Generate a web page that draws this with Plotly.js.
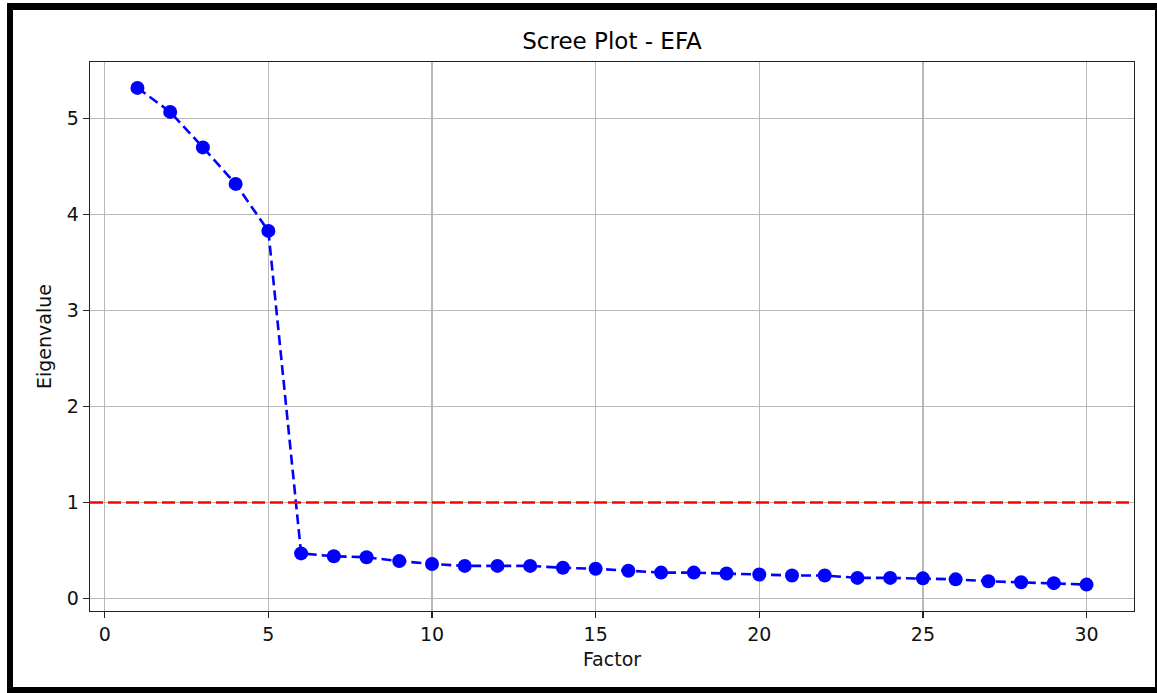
<!DOCTYPE html>
<html>
<head>
<meta charset="utf-8">
<script src="https://cdn.plot.ly/plotly-3.0.1.min.js"></script>
<style>
  html, body { margin: 0; padding: 0; background: #fff; }
  #wrap { position: relative; width: 1157px; height: 693px; overflow: hidden; }
  #chart { position: absolute; left: 0; top: 0; width: 1157px; height: 693px; }
  #frame { position: absolute; left: 7px; top: 3px; width: 1150px; height: 690px;
           box-sizing: border-box; border-style: solid; border-color: #000;
           border-width: 7px 2px 6px 6px; pointer-events: none; }
</style>
</head>
<body>
<div id="wrap">
  <div id="chart"></div>
  <div id="frame"></div>
</div>
<script>
const factors = Array.from({length: 30}, (_, i) => i + 1);
const eigenvalues = [5.32, 5.07, 4.70, 4.32, 3.83, 0.47, 0.44, 0.43, 0.39, 0.36,
                     0.34, 0.34, 0.34, 0.32, 0.31, 0.29, 0.27, 0.27, 0.26, 0.25,
                     0.24, 0.24, 0.215, 0.215, 0.21, 0.20, 0.18, 0.17, 0.16, 0.145];
const kaiserThreshold = 1;
const xTicks = [0, 5, 10, 15, 20, 25, 30];
const yTicks = [0, 1, 2, 3, 4, 5];
const titleText = 'Scree Plot - EFA';
const xLabel = 'Factor';
const yLabel = 'Eigenvalue';

const font = 'DejaVu Sans, sans-serif';

const trace = {
  x: factors,
  y: eigenvalues,
  type: 'scatter',
  mode: 'lines+markers',
  line: {color: '#0000ff', width: 2.6, dash: '10px,5px'},
  marker: {color: '#0000ff', size: 14},
  hoverinfo: 'x+y',
  showlegend: false
};

const layout = {
  width: 1157,
  height: 693,
  paper_bgcolor: 'rgba(0,0,0,0)',
  plot_bgcolor: '#ffffff',
  margin: {l: 90, r: 23, t: 62, b: 82, pad: 0},
  title: {
    text: titleText,
    font: {family: font, size: 23, color: '#000'},
    x: 0.5, xanchor: 'center', xref: 'paper',
    y: 1 - 41 / 693, yanchor: 'middle', yref: 'container'
  },
  xaxis: {
    range: [-0.45, 31.45],
    tickvals: xTicks,
    ticktext: xTicks.map(String),
    showgrid: true, gridcolor: '#b8b8b8', gridwidth: 1.5,
    zeroline: false,
    showline: true, mirror: true, linecolor: '#222', linewidth: 1.3,
    ticks: 'outside', ticklen: 6, tickwidth: 1.3, tickcolor: '#222',
    tickfont: {family: font, size: 19, color: '#111'},
    title: {text: xLabel, font: {family: font, size: 19, color: '#111'}, standoff: 8}
  },
  yaxis: {
    range: [-0.13, 5.59],
    tickvals: yTicks,
    ticktext: yTicks.map(String),
    showgrid: true, gridcolor: '#b8b8b8', gridwidth: 1.5,
    zeroline: false,
    showline: true, mirror: true, linecolor: '#222', linewidth: 1.3,
    ticks: 'outside', ticklen: 6, tickwidth: 1.3, tickcolor: '#222',
    tickfont: {family: font, size: 19, color: '#111'},
    title: {text: yLabel, font: {family: font, size: 19, color: '#111'}, standoff: 10}
  },
  shapes: [{
    type: 'line', xref: 'paper', yref: 'y',
    x0: 0, x1: 1, y0: kaiserThreshold, y1: kaiserThreshold,
    line: {color: '#ff0000', width: 2.6, dash: '13px,5px'},
    layer: 'above'
  }]
};

Plotly.newPlot('chart', [trace], layout, {displayModeBar: false, staticPlot: true});
</script>
</body>
</html>
